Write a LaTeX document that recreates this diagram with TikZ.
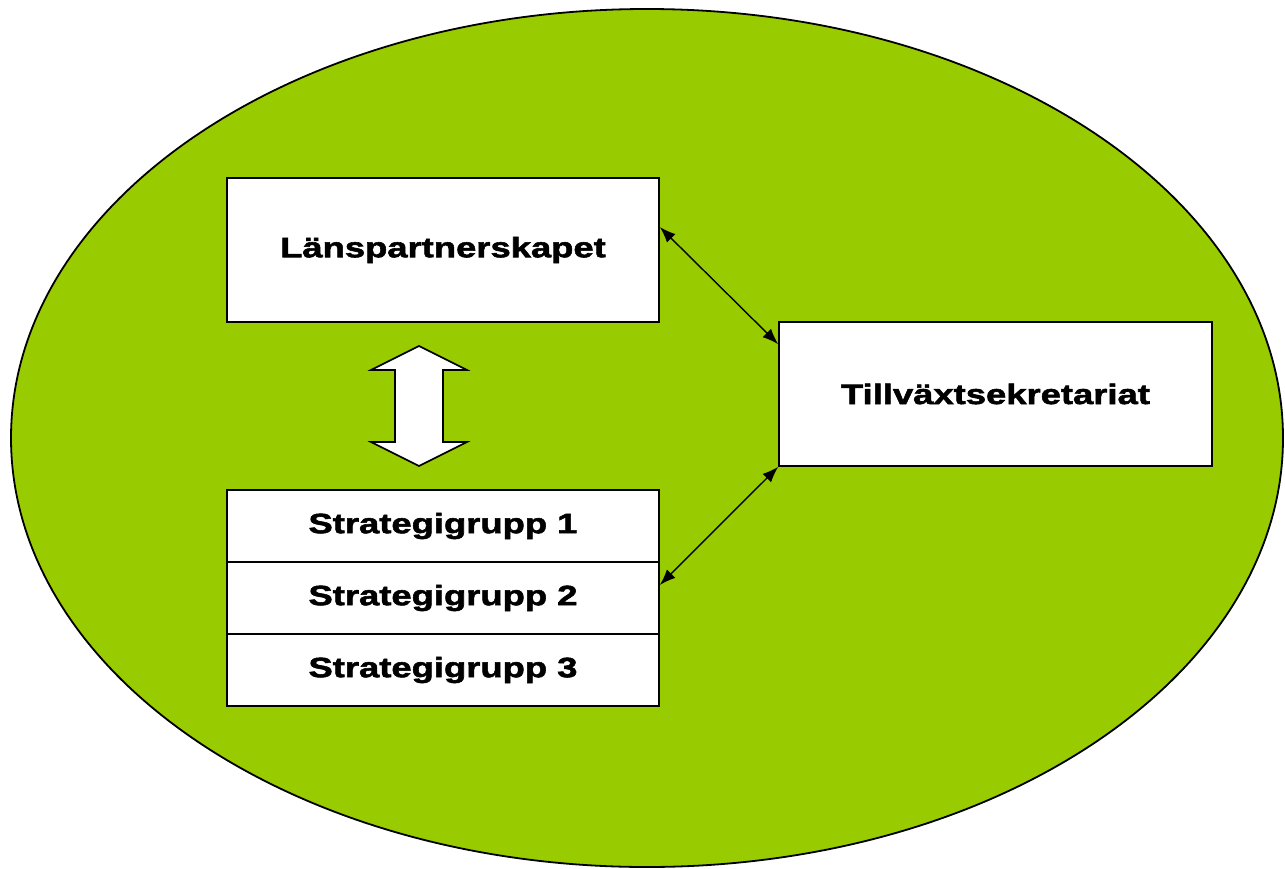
\documentclass[tikz,border=0pt]{standalone}
\usepackage{fontspec}
\setmainfont{Liberation Sans}[FakeStretch=1.3, FakeBold=2]
\usetikzlibrary{arrows.meta}
\definecolor{lovgron}{HTML}{99CC00}
\begin{document}
\begin{tikzpicture}
[
    x=1pt, y=-1pt,
    ruta/.style={draw=black, line width=1.6pt, fill=white, minimum width=432pt,
        font=\fontsize{28}{30}\selectfont\bfseries, inner sep=0pt},
    stor/.style={ruta, minimum height=144pt},
    grupp/.style={ruta, minimum height=72pt},
    pil/.style={line width=1.4pt, {Latex[length=16pt,width=12pt]}-{Latex[length=16pt,width=12pt]}},
]
\useasboundingbox (0,0) rectangle (1285,868);
\draw[line width=1.8pt, fill=lovgron] (647,438) ellipse [x radius=636, y radius=429];
\node [stor] (lanspartner) at (443,250) {Länspartnerskapet};
\node [stor, minimum width=433pt] (tillvaxt) at (995.5,394) {Tillväxtsekretariat};
\node [grupp] (grupp1) at (443,526) {Strategigrupp 1};
\node [grupp] (grupp2) at (443,598) {Strategigrupp 2};
\node [grupp] (grupp3) at (443,670) {Strategigrupp 3};
% dubbelpil mellan partnerskap och grupper
\draw[line width=1.6pt, fill=white, line join=miter]
    (419,346) -- (467,370) -- (443,370) -- (443,442) -- (467,442) -- (419,466)
    -- (371,442) -- (395,442) -- (395,370) -- (371,370) -- cycle;
\draw[pil] ([yshift=23pt]lanspartner.east) -- ([yshift=-23pt]tillvaxt.north west);
\draw[pil] (tillvaxt.south west) -- ([yshift=13pt]grupp2.east);
\end{tikzpicture}
\end{document}
